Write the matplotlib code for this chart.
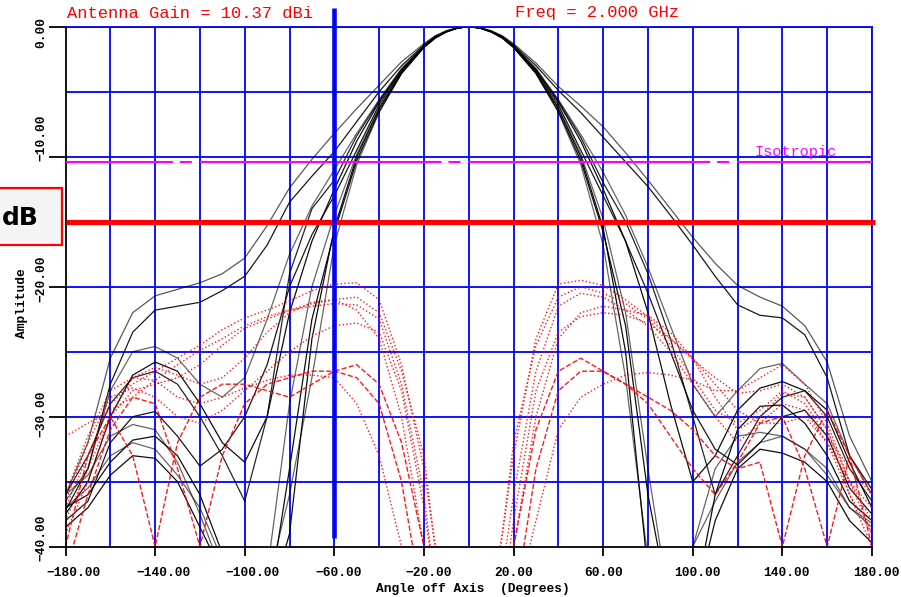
import matplotlib
matplotlib.use('Agg')
import matplotlib.pyplot as plt
from matplotlib.transforms import ScaledTranslation
from matplotlib.patches import Rectangle

plt.rcParams['lines.scale_dashes'] = False

# ---------------- data ----------------
angles = (list(range(-180, -19, 10)) + [-15, -10, -5, 0, 5, 10, 15] + list(range(20, 181, 10)))

# co-polar patterns (dB)
co1 = [-36.0, -32.0, -25.5, -22.0, -20.7, -20.2, -19.7, -19.0, -17.8, -15.3, -12.4, -10.2, -8.2, -6.3, -4.5, -2.7, -1.3,
       -0.7, -0.3, -0.08, 0.0, -0.08, -0.3, -0.7,
       -1.3, -2.8, -4.6, -6.1, -7.7, -9.7, -11.8, -14.0, -16.2, -18.2, -19.9, -20.8, -21.5, -23.0, -25.8, -31.5, -35.0]
co2 = [-37.2, -34.0, -27.5, -23.5, -21.8, -21.5, -21.2, -20.3, -19.2, -16.8, -13.5, -11.5, -9.6, -7.3, -5.0, -3.0, -1.4,
       -0.75, -0.35, -0.09, 0.0, -0.09, -0.35, -0.75,
       -1.4, -3.0, -4.9, -6.6, -8.5, -10.4, -12.3, -14.5, -16.8, -19.2, -21.4, -22.2, -22.4, -23.7, -27.0, -33.0, -35.6]
co3 = [-36.5, -34.0, -28.0, -25.0, -24.6, -25.5, -27.5, -28.5, -27.0, -22.5, -17.5, -13.8, -11.0, -8.2, -5.6, -3.2, -1.45,
       -0.78, -0.35, -0.09, 0.0, -0.09, -0.35, -0.78,
       -1.45, -3.2, -5.6, -8.3, -11.2, -14.5, -18.5, -23.0, -27.5, -30.0, -28.0, -26.3, -25.9, -27.5, -29.0, -33.0, -36.0]
co4 = [-37.5, -35.0, -30.0, -26.8, -25.8, -26.5, -29.0, -32.0, -33.5, -30.0, -22.0, -16.5, -12.5, -8.8, -5.8, -3.3, -1.5,
       -0.8, -0.38, -0.1, 0.0, -0.1, -0.38, -0.8,
       -1.5, -3.3, -5.8, -8.8, -12.5, -16.5, -22.0, -29.0, -35.0, -33.0, -29.5, -27.8, -27.3, -28.0, -29.5, -33.5, -37.0]
co5 = [-38.0, -36.5, -32.0, -30.0, -29.6, -31.5, -33.8, -32.5, -30.0, -26.0, -20.0, -16.0, -13.0, -9.5, -6.0, -3.4, -1.5,
       -0.8, -0.38, -0.1, 0.0, -0.1, -0.38, -0.8,
       -1.5, -3.4, -6.0, -9.5, -13.0, -16.5, -20.5, -25.0, -29.5, -32.5, -33.7, -32.0, -30.0, -29.5, -31.5, -35.5, -37.5]
co6 = [-37.0, -36.0, -33.5, -31.8, -31.5, -33.0, -36.0, -40.5, -45.0, -45.0, -39.0, -24.0, -15.5, -10.0, -6.3, -3.5, -1.55,
       -0.85, -0.4, -0.1, 0.0, -0.1, -0.4, -0.85,
       -1.55, -3.5, -6.3, -10.0, -15.5, -25.0, -42.0, -45.0, -45.0, -36.0, -31.0, -29.2, -29.1, -30.5, -33.0, -36.5, -38.0]
co7 = [-36.0, -34.5, -31.5, -30.6, -31.0, -33.5, -37.5, -42.0, -45.0, -42.0, -29.0, -20.0, -14.5, -9.8, -6.2, -3.5, -1.55,
       -0.85, -0.4, -0.1, 0.0, -0.1, -0.4, -0.85,
       -1.55, -3.5, -6.2, -9.8, -14.8, -22.0, -34.0, -45.0, -40.0, -34.0, -31.5, -31.2, -31.5, -32.5, -34.5, -37.0, -38.5]
co8 = [-38.5, -37.0, -34.5, -33.0, -33.2, -35.0, -38.5, -42.0, -45.0, -45.0, -34.0, -22.5, -15.8, -10.3, -6.5, -3.6, -1.6,
       -0.88, -0.4, -0.1, 0.0, -0.1, -0.4, -0.88,
       -1.6, -3.6, -6.5, -10.3, -15.8, -23.0, -36.0, -45.0, -45.0, -38.0, -34.0, -32.5, -32.8, -33.5, -35.0, -38.0, -39.7]
co9 = [-37.0, -35.5, -33.0, -32.0, -32.5, -34.5, -37.0, -41.0, -44.0, -43.0, -36.0, -27.0, -16.8, -10.6, -6.6, -3.6, -1.6,
       -0.88, -0.4, -0.1, 0.0, -0.1, -0.4, -0.88,
       -1.6, -3.6, -6.6, -10.6, -16.8, -27.0, -41.0, -44.0, -40.0, -36.5, -33.5, -32.0, -31.5, -32.5, -34.0, -37.0, -38.2]
co10 = [-36.0, -33.0, -29.0, -27.0, -26.5, -27.5, -30.0, -33.0, -36.5, -30.0, -19.0, -14.0, -11.8, -8.4, -5.7, -3.3, -1.5,
        -0.8, -0.38, -0.1, 0.0, -0.1, -0.38, -0.8,
        -1.5, -3.3, -5.7, -8.5, -12.0, -15.0, -19.0, -24.0, -30.0, -36.0, -33.0, -30.0, -28.5, -28.0, -30.0, -34.0, -36.5]

# cross-polar patterns (dB)
cx1 = [-37.0, -33.0, -29.0, -27.5, -26.5, -25.5, -24.5, -23.3, -22.4, -21.8, -21.1, -20.3, -19.8, -19.7, -21.0, -26.0, -34.0,
       -40.0, -45.0, -45.0, -45.0, -45.0, -45.0, -39.0,
       -33.0, -24.0, -19.8, -19.5, -19.9, -21.0, -22.3, -24.0, -25.6, -27.0, -28.2, -28.0, -27.5, -28.5, -31.0, -35.0, -38.0]
cx2 = [-38.0, -34.0, -30.0, -28.0, -27.5, -27.0, -26.0, -24.5, -23.2, -22.5, -21.8, -21.5, -21.3, -21.4, -22.5, -27.5, -36.0,
       -43.0, -45.0, -45.0, -45.0, -45.0, -45.0, -42.0,
       -36.0, -26.5, -21.5, -20.5, -20.8, -21.8, -23.0, -25.0, -27.5, -30.0, -32.0, -30.5, -29.0, -29.5, -32.0, -36.0, -39.0]
cx3 = [-39.0, -35.0, -30.0, -27.0, -26.2, -26.8, -27.5, -27.0, -25.5, -23.5, -22.0, -21.2, -21.0, -21.8, -24.0, -30.0, -40.0,
       -45.0, -45.0, -45.0, -45.0, -45.0, -45.0, -45.0,
       -40.0, -30.0, -24.0, -22.0, -21.5, -21.8, -22.2, -23.5, -25.5, -28.5, -31.0, -30.0, -28.2, -28.5, -31.0, -36.0, -40.0]
cx4 = [-36.0, -31.5, -28.0, -27.0, -27.2, -28.5, -29.0, -28.5, -27.8, -27.2, -26.8, -26.8, -27.0, -29.0, -33.0, -40.0, -45.0,
       -45.0, -45.0, -45.0, -45.0, -45.0, -45.0, -45.0,
       -45.0, -38.0, -31.0, -28.5, -27.5, -26.8, -26.6, -26.8, -27.2, -28.0, -28.0, -27.0, -26.0, -27.5, -30.5, -35.0, -39.0]
cx5 = [-31.5, -30.5, -29.5, -28.5, -27.2, -26.0, -24.9, -24.0, -23.0, -22.3, -21.8, -21.3, -21.0, -20.8, -22.0, -26.5, -33.0,
       -40.0, -45.0, -45.0, -45.0, -45.0, -45.0, -39.0,
       -32.0, -24.5, -20.8, -20.0, -20.5, -21.3, -22.5, -24.5, -27.0, -29.5, -30.5, -29.5, -28.0, -29.0, -31.5, -34.0, -36.0]
cx6 = [-40.0, -33.0, -30.0, -33.0, -40.0, -32.0, -28.5, -27.5, -27.5, -28.0, -28.5, -27.5, -26.5, -26.0, -27.5, -32.0, -40.0,
       -45.0, -45.0, -45.0, -45.0, -45.0, -45.0, -45.0,
       -40.0, -31.0, -26.5, -25.5, -26.5, -27.5, -28.5, -29.5, -31.0, -33.0, -34.0, -33.5, -40.0, -33.0, -29.5, -33.0, -40.0]
cx7 = [-42.0, -36.0, -31.0, -28.5, -29.0, -34.0, -40.0, -33.0, -29.0, -27.5, -27.0, -26.5, -26.5, -27.0, -29.0, -35.0, -45.0,
       -45.0, -45.0, -45.0, -45.0, -45.0, -45.0, -45.0,
       -45.0, -34.0, -28.0, -26.5, -26.5, -27.5, -29.0, -31.5, -34.0, -36.0, -33.5, -30.5, -30.0, -34.0, -40.0, -33.0, -36.0]
cx8 = [-36.5, -32.0, -28.5, -27.8, -28.5, -30.0, -30.5, -29.5, -28.0, -26.5, -25.0, -23.8, -23.0, -22.8, -23.5, -28.0, -37.0,
       -43.0, -45.0, -45.0, -45.0, -45.0, -45.0, -44.0,
       -38.0, -28.0, -23.5, -22.3, -22.0, -22.2, -22.8, -24.0, -25.5, -27.5, -29.5, -30.5, -30.5, -30.0, -32.0, -35.0, -37.0]

co_curves = [co1, co2, co3, co4, co5, co6, co7, co8, co9, co10]
cx_curves = [cx1, cx2, cx3, cx4, cx5, cx6, cx7, cx8]

x_ticks = [-180, -140, -100, -60, -20, 20, 60, 100, 140, 180]
y_ticks = [0, -10, -20, -30, -40]
isotropic_level = -10.37
threshold_level = -15.0
marker_angle = -60

title_left = "Antenna Gain = 10.37 dBi"
title_right = "Freq = 2.000 GHz"
x_title = "Angle off Axis  (Degrees)"
y_title = "Amplitude"

# ---------------- styles ----------------
co_alpha = [0.65, 0.9, 0.6, 0.95, 0.9, 0.95, 0.6, 0.95, 0.6, 0.85]
cx_style = [':', ':', ':', ':', ':', '--', '--', ':']

W, H = 901, 597
fig = plt.figure(figsize=(W / 100, H / 100), dpi=100)
L, R, T, B = 65.5, 872, 26.7, 546.7
ax = fig.add_axes([L / W, 1 - B / H, (R - L) / W, (B - T) / H])
ax.set_xlim(-180, 180)
ax.set_ylim(-40, 0)


def fx(px):
    return px / W


def fy(py):
    return 1 - py / H


BLUE = '#0000ff'
for gx in range(-160, 181, 20):
    ax.axvline(gx, color=BLUE, lw=1.3, zorder=1)
for gy in range(-35, 1, 5):
    ax.axhline(gy, color=BLUE, lw=1.3, zorder=1)

for c, a in zip(co_curves, co_alpha):
    ax.plot(angles, c, color='black', lw=0.9, alpha=a, zorder=2)
for c, s in zip(cx_curves, cx_style):
    ax.plot(angles, c, color='#ff0000', lw=1.0, ls=s, alpha=0.9, zorder=2)

# isotropic line
ax.plot([-180, 180], [isotropic_level, isotropic_level], color='#ff00ff', lw=1.5, zorder=3,
        ls=(97, (174, 5, 8.6, 5.8)))
fig.text(fx(755), fy(152), "Isotropic", color='#ff00ff', family='Liberation Mono', fontsize=11,
         ha='left', va='center')

# thick threshold line and marker
ax.plot([-180, 181.5], [threshold_level, threshold_level], color='#ff0000', lw=3.7, zorder=4,
        clip_on=False, solid_capstyle='butt')
ax.plot([marker_angle, marker_angle], [1.45, -39.3], color=BLUE, lw=3.3, zorder=4, clip_on=False,
        solid_capstyle='butt')

# spines
for s in ['left', 'bottom']:
    ax.spines[s].set_color('black')
    ax.spines[s].set_linewidth(1.3)
for s in ['top', 'right']:
    ax.spines[s].set_color(BLUE)
    ax.spines[s].set_linewidth(1.3)

tick_font = dict(family='Liberation Mono', weight='bold', size=9.3)
ax.set_xticks(x_ticks)
ax.set_xticklabels([f"{v:.2f}".replace('-', '\u2212') for v in x_ticks], fontdict=tick_font)
ax.tick_params(axis='x', direction='out', length=6.5, width=1.3, color='black', pad=8)
off = ScaledTranslation(-19 / 100, 0, fig.dpi_scale_trans)
for lab in ax.get_xticklabels():
    lab.set_ha('left')
    lab.set_transform(lab.get_transform() + off)

ax.set_yticks(y_ticks)
ax.set_yticklabels([])
ax.tick_params(axis='y', direction='out', length=12, width=1.3, color='black')
ylab_pos = [33, 138, 279, 414, 538]
for v, py in zip(y_ticks, ylab_pos):
    fig.text(fx(41), fy(py), f"{v:.2f}".replace('-', '\u2212'), rotation=90, ha='center', va='center',
             **tick_font)

fig.text(fx(190), fy(13), title_left, color='#ff0000', family='Liberation Mono', fontsize=12.3,
         ha='center', va='center')
fig.text(fx(597), fy(13), title_right, color='#ff0000', family='Liberation Mono', fontsize=12.3,
         ha='center', va='center')
fig.text(fx(473), fy(589), x_title, ha='center', va='center', **tick_font)
fig.text(fx(22), fy(303), y_title, rotation=90, ha='center', va='center', **tick_font)

# dB box
fig.patches.append(Rectangle((fx(-5), fy(245)), fx(67), 57 / H, transform=fig.transFigure,
                             facecolor='#f4f4f4', edgecolor='#ff0000', lw=1.6, zorder=10))
fig.text(fx(2), fy(218), "dB", ha='left', va='center', family='DejaVu Sans', weight='bold',
         fontsize=18, zorder=11)

fig.savefig('out.png', dpi=100)
